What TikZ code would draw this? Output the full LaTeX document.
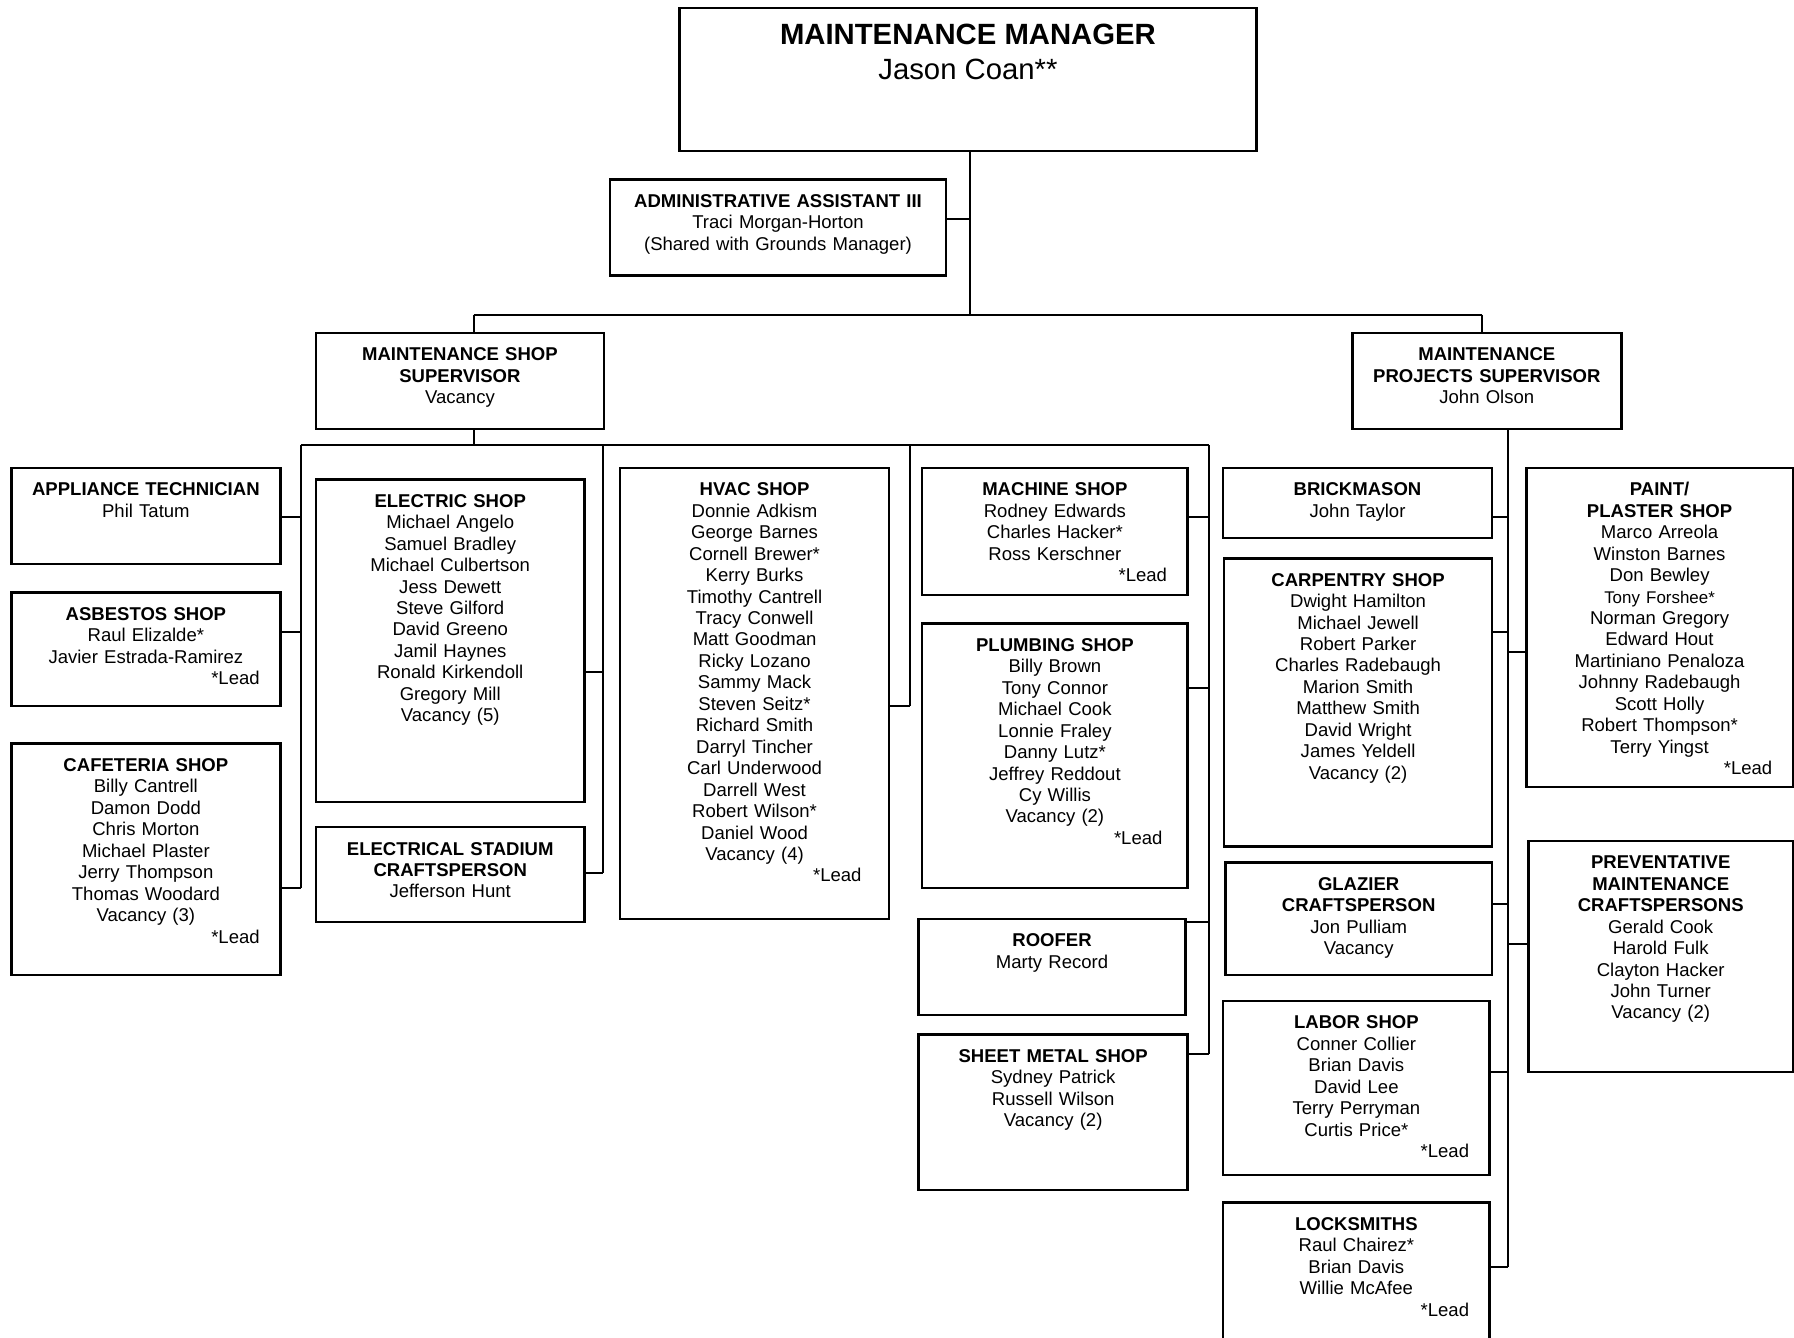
\documentclass[tikz,border=0pt]{standalone}
\usepackage{fontspec}
\setmainfont{Liberation Sans}
\usetikzlibrary{fit}
\tikzset{
  box/.style={draw, line width=1.1pt, inner sep=0pt},
  conn/.style={line width=0.85pt},
  bar/.style={line width=1pt},
  txt/.style={inner sep=0pt, align=center, font=\fontsize{8.1}{9.375}\selectfont},
}
\newcommand\shop[7][6]{%
  \node[box, fit={(#3,#4) (#5,#6)}] (#2) {};
  \pgfmathsetmacro\shopTW{(#5-#3-2*#1)*0.5}%
  \node[txt, text width=\shopTW pt, anchor=north] (#2t) at ([yshift=-5.5pt]#2.north) {\rule{0pt}{7pt}#7};
}
\newcommand\leadln[1][6pt]{\leavevmode\hfill*Lead\kern#1}
\newcommand\branch[5]{%
  \coordinate (#5) at (#3,#4);
  \draw[conn] (#1.#2 |- #5) -- (#5);
}
\begin{document}
\begin{tikzpicture}[x=0.5pt,y=-0.5pt]
\useasboundingbox (0,0) rectangle (1568,1169);

% top
\node[box, fit={(594,7) (1098,132)}] (mgr) {};
\node[inner sep=0pt, align=center, font=\fontsize{12.8}{15}\selectfont, anchor=north] (mgrt) at ([yshift=-6.5pt]mgr.north) {\rule{0pt}{10pt}\textbf{MAINTENANCE MANAGER}\\Jason Coan**};

\shop{admin}{533}{157}{827}{241}{\textbf{ADMINISTRATIVE ASSISTANT III}\\Traci Morgan-Horton\\(Shared with Grounds Manager)}
\shop{shopsup}{276}{291}{528}{375}{\textbf{MAINTENANCE SHOP}\\\textbf{SUPERVISOR}\\Vacancy}
\shop{projsup}{1182}{291}{1417}{375}{\textbf{MAINTENANCE}\\\textbf{PROJECTS SUPERVISOR}\\John Olson}

% left column
\shop{app}{10}{409}{245}{493}{\textbf{APPLIANCE TECHNICIAN}\\Phil Tatum}
\shop{asb}{10}{518}{245}{617}{\textbf{ASBESTOS SHOP}\\Raul Elizalde*\\Javier Estrada-Ramirez\\\leadln}
\shop{caf}{10}{650}{245}{852}{\textbf{CAFETERIA SHOP}\\Billy Cantrell\\Damon Dodd\\Chris Morton\\Michael Plaster\\Jerry Thompson\\Thomas Woodard\\Vacancy (3)\\\leadln}

\shop{elec}{276}{419}{511}{701}{\textbf{ELECTRIC SHOP}\\Michael Angelo\\Samuel Bradley\\Michael Culbertson\\Jess Dewett\\Steve Gilford\\David Greeno\\Jamil Haynes\\Ronald Kirkendoll\\Gregory Mill\\Vacancy (5)}
\shop{stad}{276}{723}{511}{806}{\textbf{ELECTRICAL STADIUM}\\\textbf{CRAFTSPERSON}\\Jefferson Hunt}

\shop{hvac}{542}{409}{777}{803}{\textbf{HVAC SHOP}\\Donnie Adkism\\George Barnes\\Cornell Brewer*\\Kerry Burks\\Timothy Cantrell\\Tracy Conwell\\Matt Goodman\\Ricky Lozano\\Sammy Mack\\Steven Seitz*\\Richard Smith\\Darryl Tincher\\Carl Underwood\\Darrell West\\Robert Wilson*\\Daniel Wood\\Vacancy (4)\\\leadln[9pt]}

\shop{mach}{806}{409}{1038}{520}{\textbf{MACHINE SHOP}\\Rodney Edwards\\Charles Hacker*\\Ross Kerschner\\\leadln}
\shop{plumb}{806}{545}{1038}{776}{\textbf{PLUMBING SHOP}\\Billy Brown\\Tony Connor\\Michael Cook\\Lonnie Fraley\\Danny Lutz*\\Jeffrey Reddout\\Cy Willis\\Vacancy (2)\\\leadln[8pt]}
\shop{roof}{803}{803}{1036}{887}{\textbf{ROOFER}\\Marty Record}
\shop{sheet}{803}{904}{1038}{1040}{\textbf{SHEET METAL SHOP}\\Sydney Patrick\\Russell Wilson\\Vacancy (2)}

% right side
\shop{brick}{1069}{409}{1304}{470}{\textbf{BRICKMASON}\\John Taylor}
\shop{carp}{1070}{488}{1304}{740}{\textbf{CARPENTRY SHOP}\\Dwight Hamilton\\Michael Jewell\\Robert Parker\\Charles Radebaugh\\Marion Smith\\Matthew Smith\\David Wright\\James Yeldell\\Vacancy (2)}
\shop{glaz}{1071}{754}{1304}{852}{\textbf{GLAZIER}\\\textbf{CRAFTSPERSON}\\Jon Pulliam\\Vacancy}
\shop{labor}{1069}{875}{1302}{1027}{\textbf{LABOR SHOP}\\Conner Collier\\Brian Davis\\David Lee\\Terry Perryman\\Curtis Price*\\\leadln}
\shop{lock}{1069}{1051}{1302}{1180}{\textbf{LOCKSMITHS}\\Raul Chairez*\\Brian Davis\\Willie McAfee\\\leadln}

\shop{paint}{1334}{409}{1567}{688}{\textbf{PAINT/}\\\textbf{PLASTER SHOP}\\Marco Arreola\\Winston Barnes\\Don Bewley\\{\fontsize{7.4}{9.375}\selectfont Tony Forshee*}\\Norman Gregory\\Edward Hout\\Martiniano Penaloza\\Johnny Radebaugh\\Scott Holly\\Robert Thompson*\\Terry Yingst\\\leadln}
\shop{prev}{1336}{735}{1567}{937}{\textbf{PREVENTATIVE}\\\textbf{MAINTENANCE}\\\textbf{CRAFTSPERSONS}\\Gerald Cook\\Harold Fulk\\Clayton Hacker\\John Turner\\Vacancy (2)}

% connectors: top
\coordinate (mgrJ) at (848,275);
\draw[conn] (mgr.south -| mgrJ) -- (mgrJ);
\branch{admin}{east}{848}{191}{admJ}
\coordinate (barL) at (414,275);
\coordinate (barR) at (1295,275);
\draw[bar] (barL) -- (barR);
\draw[conn] (barL) -- (shopsup.north -| barL);
\draw[conn] (barR) -- (projsup.north -| barR);

% shop supervisor bus
\coordinate (busS) at (414,389);
\draw[conn] (shopsup.south -| busS) -- (busS);
\coordinate (bus1) at (263,389);
\coordinate (bus2) at (527,389);
\coordinate (bus3) at (795,389);
\coordinate (bus4) at (1057,389);
\draw[bar] (bus1) -- (bus4);

\branch{app}{east}{263}{452}{jApp}
\branch{asb}{east}{263}{552}{jAsb}
\branch{caf}{east}{263}{776}{jCaf}
\draw[conn] (bus1) -- (jCaf);

\branch{elec}{east}{527}{587}{jElec}
\branch{stad}{east}{527}{763}{jStad}
\draw[conn] (bus2) -- (jStad);

\branch{hvac}{east}{795}{617}{jHvac}
\draw[conn] (bus3) -- (jHvac);

\branch{mach}{east}{1057}{452}{jMach}
\branch{plumb}{east}{1057}{601}{jPlumb}
\branch{roof}{east}{1057}{806}{jRoof}
\branch{sheet}{east}{1057}{921}{jSheet}
\draw[conn] (bus4) -- (jSheet);

% projects supervisor spine
\coordinate (rTop) at (1318,375);
\branch{brick}{east}{1318}{452}{jBrick}
\branch{carp}{east}{1318}{552}{jCarp}
\branch{paint}{west}{1318}{570}{jPaint}
\branch{glaz}{east}{1318}{790}{jGlaz}
\branch{prev}{west}{1318}{825}{jPrev}
\branch{labor}{east}{1318}{937}{jLabor}
\branch{lock}{east}{1318}{1107}{jLock}
\draw[conn] (projsup.south -| rTop) -- (jLock);
\end{tikzpicture}
\end{document}
